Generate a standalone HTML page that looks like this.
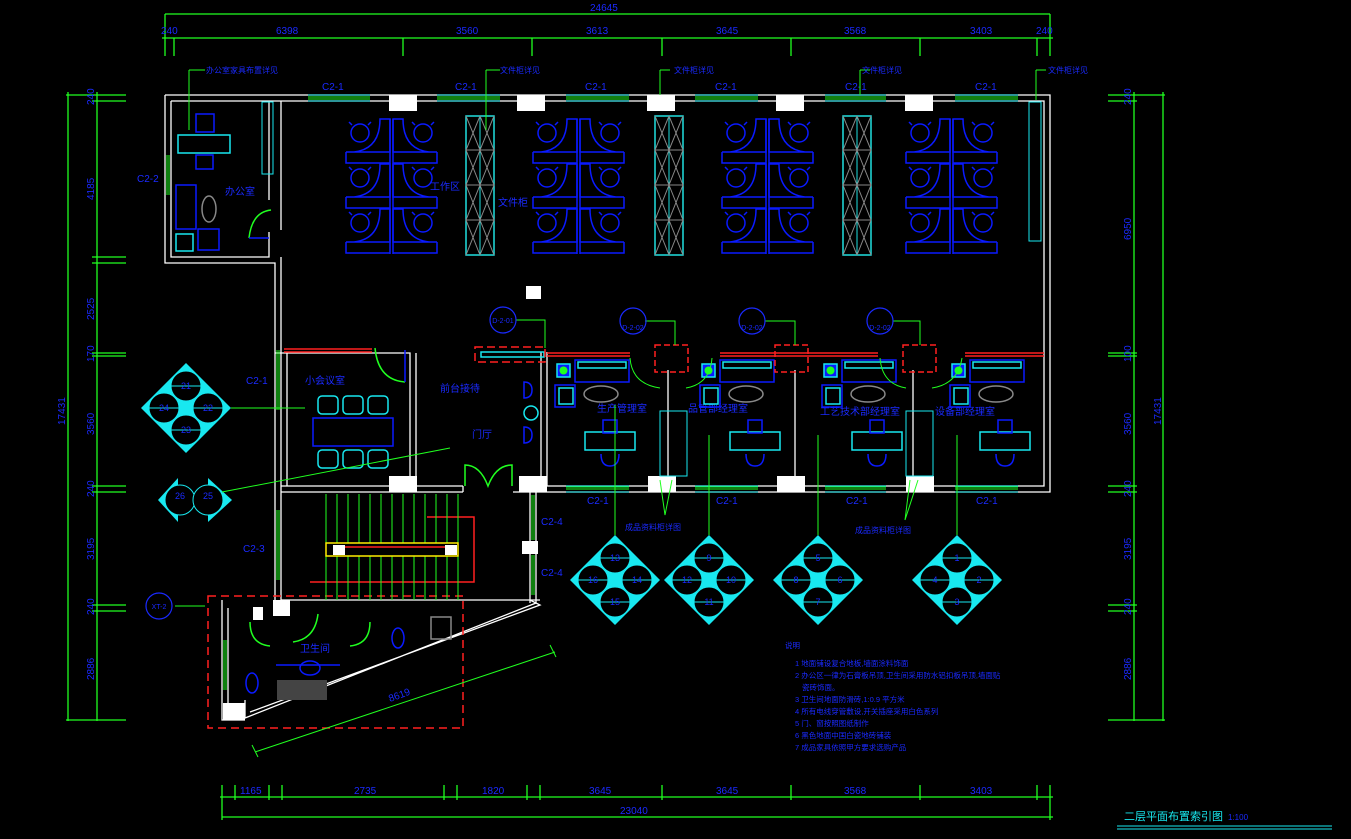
<!DOCTYPE html>
<html><head><meta charset="utf-8"><style>
html,body{margin:0;padding:0;background:#000;}
svg{display:block;font-family:"Liberation Sans","Noto Sans CJK SC",sans-serif;}
</style></head><body>
<svg width="1351" height="839" viewBox="0 0 1351 839" xmlns="http://www.w3.org/2000/svg">
<defs>
<g id="cub" fill="none" stroke="#0a1aff" stroke-width="1.5">
  <g id="crow">
    <path d="M0 33 H44 V0 H34 Q34 30 8 33"/><path d="M0 33 V44 H44"/>
    <path d="M91 33 H47 V0 H57 Q57 30 83 33"/><path d="M91 33 V44 H47"/>
    <circle cx="14" cy="14" r="9"/><circle cx="77" cy="14" r="9"/>
    <path d="M6 6 l-3 -3 M22 6 l3 -3 M69 6 l-3 -3 M85 6 l3 -3"/>
  </g>
  <use href="#crow" y="45"/><use href="#crow" y="90"/>
  <line x1="44" y1="0" x2="44" y2="135"/><line x1="47" y1="0" x2="47" y2="135"/>
</g>
<g id="cab" fill="none">
  <rect x="0" y="0" width="28" height="139" stroke="#20e0e0" stroke-width="1.5"/>
  <line x1="14" y1="0" x2="14" y2="139" stroke="#20e0e0"/>
  <path d="M0 0 L14 34 L0 69 L14 104 L0 139 M14 0 L0 34 L14 69 L0 104 L14 139 M14 0 L28 34 L14 69 L28 104 L14 139 M28 0 L14 34 L28 69 L14 104 L28 139 M0 34 H28 M0 69 H28 M0 104 H28" stroke="#888" stroke-width="1"/>
</g>
<g id="dia">
  <polygon points="0,-45 45,0 0,45 -45,0" fill="#18e8f0"/>
  <g fill="#000" stroke="#18e8f0" stroke-width="1">
    <circle cx="0" cy="-22" r="15"/><circle cx="0" cy="22" r="15"/>
    <circle cx="-22" cy="0" r="15"/><circle cx="22" cy="0" r="15"/>
  </g>
  <g stroke="#18e8f0"><line x1="-15" y1="-22" x2="15" y2="-22"/><line x1="-15" y1="22" x2="15" y2="22"/><line x1="-37" y1="0" x2="-7" y2="0"/><line x1="7" y1="0" x2="37" y2="0"/></g>
</g>
<g id="office" fill="none" stroke-width="1.5">
  <rect x="12" y="14" width="13" height="13" stroke="#18e8f0" fill="#0a1aff"/><circle cx="18.5" cy="20.5" r="4" fill="#20ff20" stroke="none"/>
  <rect x="30" y="10" width="54" height="22" stroke="#0a1aff"/><rect x="33" y="12" width="48" height="6" stroke="#18e8f0"/>
  <rect x="10" y="35" width="20" height="22" stroke="#0a1aff"/><rect x="14" y="38" width="14" height="16" stroke="#18e8f0"/>
  <ellipse cx="56" cy="44" rx="17" ry="8" stroke="#888"/>
  <rect x="40" y="82" width="50" height="18" stroke="#18e8f0"/>
  <rect x="58" y="70" width="14" height="13" stroke="#0a1aff"/>
  <path d="M56 104 q0 12 9 12 q9 0 9 -12" stroke="#0a1aff"/>
</g>
</defs>

<!-- top dims -->
<g stroke="#20ff20" stroke-width="1.3" fill="none">
  <line x1="165" y1="14" x2="1050" y2="14"/>
  <line x1="162" y1="38" x2="1053" y2="38"/>
  <path d="M165 14 V56 M174 38 V56 M403 38 V56 M532 38 V56 M662 38 V56 M791 38 V56 M920 38 V56 M1037 38 V56 M1050 14 V56"/>
  <!-- bottom -->
  <line x1="220" y1="797" x2="1053" y2="797"/>
  <line x1="222" y1="817" x2="1053" y2="817"/>
  <path d="M222 785 V820 M235 785 V800 M269 785 V800 M282 785 V800 M444 785 V800 M457 785 V800 M527 785 V800 M540 785 V800 M662 785 V800 M791 785 V800 M920 785 V800 M1037 785 V800 M1050 785 V820"/>
  <!-- left -->
  <line x1="68" y1="92" x2="68" y2="721"/>
  <line x1="97" y1="92" x2="97" y2="721"/>
  <path d="M66 95 H126 M92 101 H126 M92 257 H126 M92 263 H126 M92 353 H126 M92 356 H126 M92 486 H126 M92 492 H126 M92 605 H126 M92 611 H126 M66 720 H126"/>
  <!-- right -->
  <line x1="1134" y1="92" x2="1134" y2="721"/>
  <line x1="1163" y1="92" x2="1163" y2="721"/>
  <path d="M1108 95 H1165 M1108 101 H1137 M1108 353 H1137 M1108 356 H1137 M1108 486 H1137 M1108 492 H1137 M1108 605 H1137 M1108 611 H1137 M1108 720 H1165"/>
</g>
<g fill="#1a2aff" font-size="10">
  <text x="590" y="11">24645</text>
  <text x="161" y="34">240</text><text x="276" y="34">6398</text><text x="456" y="34">3560</text>
  <text x="586" y="34">3613</text><text x="716" y="34">3645</text><text x="844" y="34">3568</text>
  <text x="970" y="34">3403</text><text x="1036" y="34">240</text>
  <text x="240" y="794">1165</text><text x="354" y="794">2735</text><text x="482" y="794">1820</text>
  <text x="589" y="794">3645</text><text x="716" y="794">3645</text><text x="844" y="794">3568</text><text x="970" y="794">3403</text>
  <text x="620" y="814">23040</text>
  <g transform="rotate(-90)">
    <text x="-425" y="65">17431</text>
    <text x="-105" y="94">240</text><text x="-200" y="94">4185</text><text x="-320" y="94">2525</text><text x="-362" y="94">170</text>
    <text x="-435" y="94">3560</text><text x="-497" y="94">240</text><text x="-560" y="94">3195</text><text x="-615" y="94">240</text><text x="-680" y="94">2886</text>
    <text x="-425" y="1161">17431</text>
    <text x="-105" y="1131">240</text><text x="-240" y="1131">6950</text><text x="-362" y="1131">100</text>
    <text x="-435" y="1131">3560</text><text x="-497" y="1131">240</text><text x="-560" y="1131">3195</text><text x="-615" y="1131">240</text><text x="-680" y="1131">2886</text>
  </g>
</g>

<!-- walls -->
<g stroke="#fff" stroke-width="1.3" fill="none">
  <path d="M165 95 H1050 V492 H513 M171 101 H1044 V486 H519"/>
  <path d="M165 95 V263 H275 V600 M171 101 V257 H269 V232 M269 200 V101"/>
  <path d="M281 101 V230 M281 257 V600"/>
  <path d="M281 486 H390 M281 492 H463 M463 486 V492 M287 486 V353"/>
  <path d="M275 353 H410 V486 M416 353 V486 M416 486 H463"/>
  <path d="M547 352 V486 M541 352 V486"/>
  <path d="M530 492 V603 M536 492 V603 L245 718 L245 700 M530 600 L540 605 L250 712"/>
  <path d="M222 600 V720 H245 M228 608 V712"/>
  <path d="M463 600 H540 M281 600 H463"/>
  <path d="M668 370 V486 M795 370 V486 M913 370 V486"/>
</g>
<!-- columns -->
<g fill="#fff">
  <rect x="389" y="95" width="28" height="16"/><rect x="517" y="95" width="28" height="16"/>
  <rect x="647" y="95" width="28" height="16"/><rect x="776" y="95" width="28" height="16"/>
  <rect x="905" y="95" width="28" height="16"/><rect x="526" y="286" width="15" height="13"/>
  <rect x="389" y="476" width="28" height="16"/><rect x="519" y="476" width="28" height="16"/>
  <rect x="648" y="476" width="28" height="16"/><rect x="777" y="476" width="28" height="16"/>
  <rect x="906" y="476" width="28" height="16"/><rect x="522" y="541" width="16" height="13"/>
  <rect x="273" y="600" width="17" height="16"/><rect x="253" y="607" width="10" height="13"/>
  <rect x="223" y="703" width="22" height="17"/><rect x="333" y="543" width="12" height="12"/><rect x="445" y="543" width="12" height="12"/>
</g>
<!-- windows -->
<g stroke="#20ff20" stroke-width="1"><g fill="none">
  <path d="M308 97 H370 M308 99 H370 M437 97 H500 M437 99 H500 M566 97 H629 M566 99 H629 M695 97 H758 M695 99 H758 M825 97 H886 M825 99 H886 M955 97 H1018 M955 99 H1018"/>
  <path d="M566 487 H629 M566 489 H629 M695 487 H758 M695 489 H758 M825 487 H886 M825 489 H886 M955 487 H1018 M955 489 H1018"/>
  <path d="M167 155 V195 M169 155 V195 M277 350 V410 M279 350 V410 M277 510 V580 M279 510 V580 M532 495 V540 M534 495 V540 M532 555 V595 M534 555 V595 M224 640 V690 M226 640 V690"/>
</g></g>
<g stroke="#18e8f0" stroke-width="1" fill="none">
  <path d="M308 95 H370 M308 101 H370 M437 95 H500 M437 101 H500 M566 95 H629 M566 101 H629 M695 95 H758 M695 101 H758 M825 95 H886 M825 101 H886 M955 95 H1018 M955 101 H1018"/>
  <path d="M566 486 H629 M566 492 H629 M695 486 H758 M695 492 H758 M825 486 H886 M825 492 H886 M955 486 H1018 M955 492 H1018"/>
</g>
<g fill="#1a2aff" font-size="10">
  <text x="322" y="90">C2-1</text><text x="455" y="90">C2-1</text><text x="585" y="90">C2-1</text><text x="715" y="90">C2-1</text><text x="845" y="90">C2-1</text><text x="975" y="90">C2-1</text>
  <text x="137" y="182">C2-2</text><text x="246" y="384">C2-1</text><text x="243" y="552">C2-3</text>
  <text x="541" y="525">C2-4</text><text x="541" y="576">C2-4</text>
  <text x="587" y="504">C2-1</text><text x="716" y="504">C2-1</text><text x="846" y="504">C2-1</text><text x="976" y="504">C2-1</text>
  <text x="472" y="438">门厅</text><text x="225" y="195">办公室</text><text x="305" y="384">小会议室</text>
  <text x="430" y="190">工作区</text><text x="498" y="206">文件柜</text><text x="300" y="652">卫生间</text>
  <text x="597" y="412">生产管理室</text><text x="688" y="412">品管部经理室</text><text x="820" y="415">工艺技术部经理室</text><text x="935" y="415">设备部经理室</text>
  <text x="440" y="392">前台接待</text>
</g>
<!-- cubicles & cabinets -->
<use href="#cub" x="346" y="119"/><use href="#cub" x="533" y="119"/><use href="#cub" x="722" y="119"/><use href="#cub" x="906" y="119"/>
<use href="#cab" x="466" y="116"/><use href="#cab" x="655" y="116"/><use href="#cab" x="843" y="116"/>
<rect x="1029" y="102" width="12" height="139" fill="none" stroke="#18e8f0"/>
<rect x="262" y="102" width="11" height="72" fill="none" stroke="#18e8f0"/>
<rect x="660" y="411" width="27" height="65" fill="none" stroke="#18e8f0"/><rect x="906" y="411" width="27" height="65" fill="none" stroke="#18e8f0"/>
<!-- exec office furniture -->
<g fill="none" stroke-width="1.5">
  <rect x="178" y="135" width="52" height="18" stroke="#18e8f0"/>
  <rect x="196" y="114" width="18" height="18" stroke="#0a1aff"/><rect x="196" y="155" width="17" height="14" stroke="#0a1aff"/>
  <rect x="176" y="185" width="20" height="44" stroke="#0a1aff"/><ellipse cx="209" cy="209" rx="7" ry="13" stroke="#888"/>
  <rect x="198" y="229" width="21" height="21" stroke="#0a1aff"/>
  <rect x="176" y="234" width="17" height="17" stroke="#18e8f0"/>
  <path d="M249 238 Q252 212 271 210" stroke="#20ff20"/><line x1="249" y1="238" x2="269" y2="238" stroke="#0a1aff"/>
  <!-- meeting -->
  <rect x="313" y="418" width="80" height="28" stroke="#0a1aff"/>
  <rect x="318" y="396" width="20" height="18" rx="4" stroke="#18e8f0"/><rect x="343" y="396" width="20" height="18" rx="4" stroke="#18e8f0"/><rect x="368" y="396" width="20" height="18" rx="4" stroke="#18e8f0"/>
  <rect x="318" y="450" width="20" height="18" rx="4" stroke="#18e8f0"/><rect x="343" y="450" width="20" height="18" rx="4" stroke="#18e8f0"/><rect x="368" y="450" width="20" height="18" rx="4" stroke="#18e8f0"/>
  <path d="M375 348 Q378 380 405 382" stroke="#20ff20"/><line x1="405" y1="350" x2="405" y2="382" stroke="#0a1aff"/>
  <path d="M465 486 V465 Q480 465 488 486 Q496 465 512 465 V486" stroke="#20ff20"/>
  <path d="M524 382 q8 0 8 8 q0 8 -8 8 z M524 427 q8 0 8 8 q0 8 -8 8 z" stroke="#0a1aff"/><circle cx="531" cy="413" r="7" stroke="#18e8f0"/>
  <rect x="481" y="352" width="63" height="5" stroke="#18e8f0"/>
</g>
<!-- offices -->
<use href="#office" x="545" y="350"/><use href="#office" x="690" y="350"/><use href="#office" x="812" y="350"/><use href="#office" x="940" y="350"/>
<g fill="none" stroke="#ff2020" stroke-width="1.5">
  <path d="M284 349 H372 M284 352 H372 M547 356 H630 M547 353 H630 M720 353 H878 M720 356 H878 M965 353 H1044 M965 356 H1044"/>
  <path d="M655 345 H688 V372 H655 Z M775 345 H808 V372 H775 Z M903 345 H936 V372 H903 Z" stroke-dasharray="6 3"/>
  <path d="M475 347 H545 V362 H475 Z" stroke-dasharray="8 4"/>
  <path d="M208 596 H463 V728 H208 Z" stroke-dasharray="8 5"/>
  <path d="M310 582 H474 V517 H427"/>
</g>
<g fill="none" stroke="#20ff20" stroke-width="1">
  <path d="M630 358 Q632 384 660 388 M686 388 Q710 384 712 358 M880 358 Q882 384 906 388 M932 388 Q958 384 962 358"/>
</g>
<!-- stair -->
<g stroke="#20ff20" stroke-width="1">
  <path d="M326 494 V600 M337 494 V600 M348 494 V600 M359 494 V600 M370 494 V600 M381 494 V600 M392 494 V600 M403 494 V600 M414 494 V600 M425 494 V600 M436 494 V600 M447 494 V600 M458 494 V600"/>
</g>
<rect x="326" y="543" width="132" height="13" fill="#000" stroke="#ffee00" stroke-width="1.5"/>
<rect x="333" y="545" width="12" height="10" fill="#fff"/><rect x="445" y="545" width="12" height="10" fill="#fff"/>
<line x1="345" y1="547" x2="445" y2="547" stroke="#ff2020" stroke-width="1.5"/>
<!-- toilet furniture -->
<g fill="none" stroke-width="1.5">
  <ellipse cx="252" cy="683" rx="6" ry="10" stroke="#0a1aff"/><ellipse cx="398" cy="638" rx="6" ry="10" stroke="#0a1aff"/><ellipse cx="310" cy="668" rx="10" ry="7" stroke="#0a1aff"/>
  <rect x="431" y="617" width="20" height="22" stroke="#888"/>
  <path d="M250 622 q0 22 20 24 M318 614 q-3 25 -25 28 M370 622 q0 22 -20 24" stroke="#20ff20"/>
  <line x1="276" y1="665" x2="340" y2="665" stroke="#0a1aff"/>
</g>
<rect x="277" y="680" width="50" height="20" fill="#444"/>
<!-- diamonds -->
<use href="#dia" x="186" y="408"/><use href="#dia" x="615" y="580"/><use href="#dia" x="709" y="580"/><use href="#dia" x="818" y="580"/><use href="#dia" x="957" y="580"/>
<g>
  <polygon points="158,500 178,478 178,522" fill="#18e8f0"/><polygon points="232,500 208,478 208,522" fill="#18e8f0"/>
  <circle cx="180" cy="500" r="15" fill="#000" stroke="#18e8f0"/><circle cx="208" cy="500" r="15" fill="#000" stroke="#18e8f0"/>
</g>
<g fill="#1a2aff" font-size="9" text-anchor="middle">
  <text x="186" y="389">21</text><text x="164" y="411">24</text><text x="208" y="411">22</text><text x="186" y="433">23</text>
  <text x="180" y="499">26</text><text x="208" y="499">25</text>
  <text x="615" y="561">13</text><text x="593" y="583">16</text><text x="637" y="583">14</text><text x="615" y="605">15</text>
  <text x="709" y="561">9</text><text x="687" y="583">12</text><text x="731" y="583">10</text><text x="709" y="605">11</text>
  <text x="818" y="561">5</text><text x="796" y="583">8</text><text x="840" y="583">6</text><text x="818" y="605">7</text>
  <text x="957" y="561">1</text><text x="935" y="583">4</text><text x="979" y="583">2</text><text x="957" y="605">3</text>
</g>
<!-- leaders -->
<g fill="none" stroke="#20ff20" stroke-width="1">
  <path d="M189 70 H205 M189 70 V130 M486 70 H500 M486 70 V130 M660 70 V95 M670 70 H660 M860 70 V95 M870 70 H860 M1036 70 V100 M1046 70 H1036"/>
  <path d="M231 408 H305 M222 492 L450 448 M516 320 H545 V348 M645 321 H675 V345 M765 321 H795 V345 M893 321 H920 V345"/>
  <path d="M615 535 V405 M709 535 V435 M818 535 V435 M957 535 V435"/>
  <path d="M665 515 L660 480 M665 515 L672 480 M905 520 L910 480 M905 520 L918 480"/>
  <path d="M175 606 H205 M255 752 L555 652 M252 745 L258 757 M550 645 L556 657"/>
</g>
<g fill="#1a2aff" font-size="8">
  <text x="206" y="73">办公室家具布置详见</text><text x="500" y="73">文件柜详见</text><text x="674" y="73">文件柜详见</text><text x="862" y="73">文件柜详见</text><text x="1048" y="73">文件柜详见</text>
  <text x="625" y="530">成品资料柜详图</text><text x="855" y="533">成品资料柜详图</text>
  <text x="390" y="702" transform="rotate(-20 390 702)" font-size="10">8619</text>
</g>
<g fill="none" stroke="#1a2aff" stroke-width="1.2">
  <circle cx="503" cy="320" r="13"/><circle cx="633" cy="321" r="13"/><circle cx="752" cy="321" r="13"/><circle cx="880" cy="321" r="13"/><circle cx="159" cy="606" r="13"/>
</g>
<g fill="#1a2aff" font-size="7" text-anchor="middle">
  <text x="503" y="323">D-2-01</text><text x="633" y="330">D-2-02</text><text x="752" y="330">D-2-02</text><text x="880" y="330">D-2-02</text><text x="159" y="609">XT-2</text>
</g>
<!-- notes -->
<g fill="#1a2aff" font-size="7.5">
  <text x="785" y="648">说明</text>
  <text x="795" y="666">1 地面铺设复合地板,墙面涂料饰面</text>
  <text x="795" y="678">2 办公区一律为石膏板吊顶,卫生间采用防水铝扣板吊顶,墙面贴</text>
  <text x="802" y="690">瓷砖饰面。</text>
  <text x="795" y="702">3 卫生间地面防滑砖,1:0.9 平方米</text>
  <text x="795" y="714">4 所有电线穿管敷设,开关插座采用白色系列</text>
  <text x="795" y="726">5 门、窗按照图纸制作</text>
  <text x="795" y="738">6 黑色地面中国白瓷地砖铺装</text>
  <text x="795" y="750">7 成品家具依照甲方要求选购产品</text>
</g>
<text x="1124" y="820" fill="#18e8f0" font-size="11">二层平面布置索引图</text>
<text x="1228" y="820" fill="#1a2aff" font-size="8">1:100</text>
<line x1="1117" y1="826" x2="1332" y2="826" stroke="#18e8f0"/><line x1="1117" y1="829" x2="1332" y2="829" stroke="#18e8f0"/>
</svg>
</body></html>
